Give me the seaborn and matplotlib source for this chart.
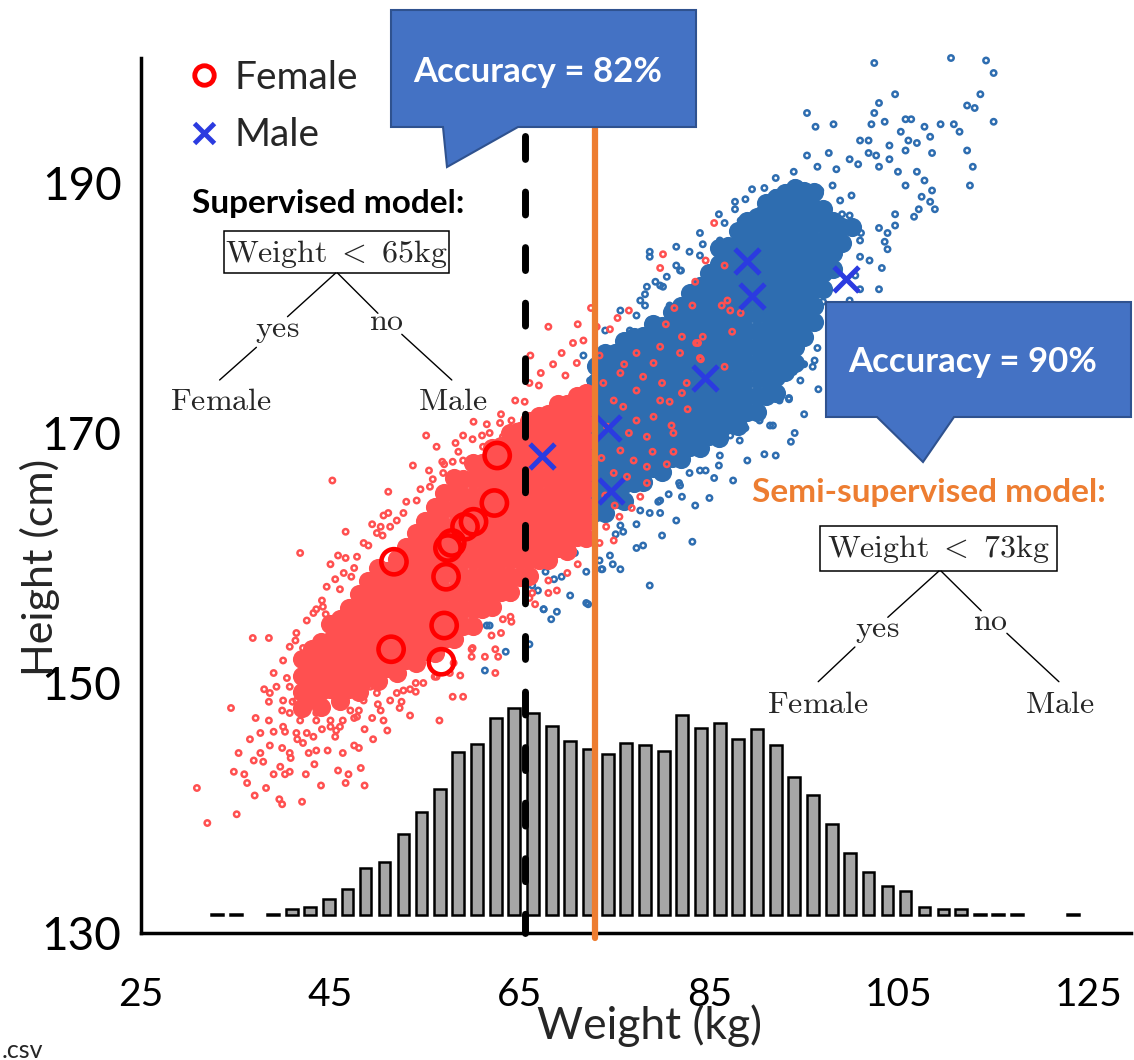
import matplotlib
matplotlib.use("Agg")
import matplotlib.pyplot as plt
import seaborn as sns
import pandas as pd
from matplotlib.lines import Line2D
from matplotlib.patches import Polygon, Rectangle

# ------------------------------------------------------------------ data
# sparse (individually visible) points, weight kg / height cm
female_w = [30.9, 32.0, 35.1, 34.5, 34.8, 35.9, 35.3, 36.8, 38.5, 37.1, 38.5, 38.5, 39.0, 37.6, 37.9, 38.2,
            39.6, 39.9, 39.0, 40.2, 40.7, 39.9, 40.2, 39.0, 39.9, 40.4, 41.3, 41.8, 45.2, 46.6, 42.4, 43.3,
            42.7, 43.5, 44.7, 45.5, 46.3, 46.6, 46.9, 48.6, 48.0, 48.6, 47.5, 46.3, 45.0, 44.1, 43.5, 43.0,
            42.1, 43.3, 43.5, 44.1, 45.0, 45.8, 46.6, 47.2, 45.5, 49.4, 50.3, 51.1, 50.6, 51.1, 53.7, 55.1,
            55.4, 56.2, 56.8, 57.9, 58.2, 59.0, 60.1, 61.0, 61.8, 62.9, 64.1, 53.4, 52.3, 50.6, 49.4, 50.3,
            52.5, 57.9, 59.0, 56.5, 53.4, 54.0, 54.2, 55.4, 58.7, 59.9, 59.9, 61.3, 62.4, 62.7, 62.4, 63.0,
            64.1, 63.2, 64.1, 66.3, 66.6, 68.0, 68.9, 71.1,
            41.0, 41.8, 42.5, 44.5, 45.5, 43.8, 41.5, 40.8, 37.0, 36.5, 38.0, 42.0, 44.0, 45.8, 47.5, 49.5,
            51.0, 48.2,
            44.5, 46.0, 47.5, 49.0, 50.5, 52.0, 53.0, 54.5, 55.8, 57.0, 58.5, 60.0, 61.5, 63.0, 65.5, 67.0,
            46.0, 48.0, 50.0, 52.0, 54.0, 56.0, 58.0, 60.0, 62.0, 64.0, 66.0, 68.0, 70.0,
            64.5, 66.0, 67.2, 68.5, 69.8, 71.0, 68.0, 66.1, 71.1, 69.4, 70.6, 71.7, 73.1, 72.5, 75.3, 76.5,
            74.5,
            73.4, 75.6, 77.3, 79.1, 79.8, 81.9, 83.6, 86.6, 84.0, 82.6, 80.8, 79.1, 77.3, 75.9, 81.2, 78.4,
            75.6, 77.0, 78.4, 76.3, 81.2, 74.9, 77.7, 75.5, 74.1, 74.9, 73.4, 78.4, 79.8, 77.3, 74.9, 83.2,
            86.3, 86.9, 87.2, 88.3, 87.4, 84.1, 82.1, 82.7, 81.0, 84.3, 83.8, 80.4, 81.3, 82.1, 86.6, 84.6,
            79.8, 80.1, 85.5, 83.5, 73.8, 74.2, 73.6, 74.0, 76.5, 76.0, 78.0, 80.0, 79.0, 80.5, 76.8, 75.0,
            42.1, 42.5, 43.2, 44.2, 45.0, 45.6, 46.4, 47.1, 47.8, 42.8, 43.5, 44.2, 45.0, 45.6, 41.4, 40.7,
            40.0, 41.4, 42.1, 43.2, 40.7, 39.7, 38.6, 37.6, 36.9, 36.2, 43.5, 46.4, 47.8, 49.2, 49.9, 51.3,
            52.7, 54.8, 56.2, 57.6, 49.2, 48.5, 40.7, 40.0, 39.3, 38.6, 40.0, 40.7, 41.4, 42.5, 43.2, 44.2,
            44.6, 46.4, 47.8, 48.5, 49.9, 51.3, 52.7, 54.1, 55.5, 56.9, 59.0, 61.1, 63.2, 64.6, 66.1]
female_h = [141.6, 138.8, 139.5, 148.0, 142.9, 142.7, 144.4, 153.6, 153.6, 147.2, 147.0, 148.5, 150.8, 144.4,
            143.7, 141.6, 140.7, 140.3, 142.7, 142.7, 142.9, 144.8, 146.1, 146.1, 147.8, 150.4, 153.4, 160.4,
            166.2, 162.1, 142.7, 143.5, 144.4, 144.6, 144.6, 145.7, 144.4, 142.0, 142.7, 141.8, 144.8, 146.3,
            147.2, 147.0, 146.5, 146.3, 147.6, 149.9, 151.2, 153.1, 155.9, 156.6, 159.5, 160.2, 160.0, 158.5,
            158.3, 162.7, 162.5, 165.3, 163.4, 163.6, 167.4, 169.8, 167.0, 168.9, 167.7, 167.7, 169.2, 169.8,
            170.9, 169.8, 170.0, 170.8, 171.0, 147.4, 148.0, 147.0, 147.2, 147.8, 148.5, 148.9, 148.9, 147.0,
            149.5, 149.3, 152.1, 152.3, 150.6, 152.1, 152.7, 152.1, 150.8, 152.1, 152.7, 154.0, 154.9, 155.1,
            156.8, 157.2, 156.3, 157.2, 157.4, 159.5,
            148.5, 147.0, 146.0, 148.0, 150.5, 151.5, 145.5, 144.0, 141.0, 145.5, 149.5, 140.5, 141.8, 143.0,
            145.0, 145.5, 146.2, 143.2,
            155.5, 157.5, 159.2, 161.0, 161.8, 163.0, 164.5, 165.5, 166.3, 167.5, 168.5, 169.5, 170.7, 171.5,
            172.5, 173.8,
            146.5, 147.8, 148.3, 149.2, 150.0, 150.5, 151.6, 152.8, 153.8, 155.3, 156.8, 158.2, 158.8,
            172.6, 174.0, 174.8, 175.5, 174.6, 175.6, 178.5, 176.2, 178.7, 176.4, 177.2, 177.4, 178.5, 180.0,
            179.2, 179.8, 178.3,
            176.2, 174.8, 176.4, 175.6, 176.9, 176.4, 177.2, 175.3, 176.0, 174.0, 172.5, 171.3, 171.0, 172.1,
            170.0, 169.7, 168.6, 167.8, 167.3, 166.5, 168.5, 166.8, 164.9, 163.3, 162.5, 161.4, 161.2, 166.0,
            172.6, 173.4, 172.6, 180.2, 180.2, 180.6, 179.8, 179.6, 178.1, 175.9, 173.2, 171.9, 170.6, 177.7,
            177.2, 178.7, 180.0, 177.7, 183.4, 183.8, 183.2, 184.3, 186.8, 182.1, 174.0, 170.5, 168.0, 165.0,
            170.0, 175.5, 174.5, 174.0, 168.5, 167.5, 164.0, 164.2,
            152.8, 152.1, 151.3, 150.8, 150.0, 149.4, 148.6, 147.8, 147.3, 149.2, 148.6, 147.8, 147.0, 146.2,
            148.6, 147.6, 146.5, 146.0, 145.2, 145.7, 144.4, 143.3, 145.0, 146.0, 143.8, 142.0, 147.0, 150.5,
            151.3, 152.4, 149.2, 148.6, 149.4, 150.0, 150.5, 150.8, 149.7, 148.6, 149.7, 148.6, 149.7, 149.2,
            151.8, 152.9, 154.0, 155.0, 155.6, 156.1, 157.7, 158.8, 160.1, 161.2, 162.0, 162.5, 163.6, 164.6,
            165.7, 166.8, 167.8, 168.9, 169.7, 170.5, 171.3]

male_w = [102.4, 110.5, 114.2, 115.0, 113.6, 112.2, 113.0, 115.0, 104.6, 102.9, 102.4, 95.3, 96.2, 98.1, 102.1,
          103.5, 105.7, 106.3, 107.7, 109.4, 110.8, 111.4, 108.3, 106.9, 106.0, 105.2, 100.9, 101.8, 104.0,
          105.7, 108.5, 112.2, 112.8, 112.5, 101.8, 102.6, 104.0, 97.6, 95.3, 99.8, 96.4, 98.4, 100.7, 102.9,
          104.9, 106.9, 107.7, 105.7, 108.5, 107.4, 108.3, 108.8, 107.1, 106.6, 104.6, 103.8, 104.6, 102.9,
          103.5, 103.8, 103.2, 102.9, 100.9, 100.9, 90.8, 93.9, 91.9, 88.8, 87.7, 87.7, 88.3, 86.6, 81.5,
          82.9, 84.3, 78.7, 78.7, 81.5, 79.3, 78.4, 78.2, 80.1, 78.2, 77.3, 71.7, 93.6, 90.8, 91.7, 93.4,
          95.9, 95.0, 93.9, 93.6, 96.4, 100.4,
          78.7, 83.2, 77.3, 75.6, 74.8, 73.7, 74.5, 70.3, 68.6, 67.5, 68.3, 68.9, 66.9, 66.3, 72.0, 61.5,
          93.4, 91.4, 88.8, 87.2, 85.5, 86.0, 84.6, 82.9, 82.1, 80.7, 79.8, 78.7, 79.6, 77.3, 75.9, 75.1,
          81.8, 94.8,
          61.3, 63.5, 66.0, 61.8, 67.5, 72.2, 67.7, 69.4, 72.0, 73.6, 73.4, 70.8, 70.3,
          97.0, 98.5, 99.5, 97.8, 96.8, 99.0, 101.0, 100.0, 98.0, 96.0, 94.0, 92.0, 89.5, 86.0, 84.0, 82.0,
          80.5, 96.5, 95.0, 94.0, 92.0, 89.0, 87.5, 85.0, 83.5, 81.5, 80.0, 78.0,
          74.0, 75.6, 77.7, 79.8, 81.9, 84.0, 86.1, 76.6, 78.7, 80.8, 82.9, 85.1, 73.4, 72.4, 88.2, 90.3,
          92.4, 94.6, 96.7, 98.8, 99.8, 100.9, 101.9, 99.8, 98.8, 97.7, 96.1, 94.6, 92.4, 90.3, 88.2, 86.1,
          84.0, 81.9, 79.8, 77.7, 75.6]
male_h = [199.6, 200.0, 199.8, 198.8, 197.1, 196.2, 196.0, 194.9, 197.1, 196.4, 195.6, 195.6, 194.5, 194.7,
          194.7, 194.9, 195.1, 195.1, 194.5, 194.7, 194.7, 194.1, 193.7, 193.2, 193.4, 194.1, 193.4, 193.4,
          193.0, 192.6, 192.4, 192.6, 191.3, 189.8, 192.4, 192.2, 191.9, 192.4, 192.2, 191.9, 191.3, 191.1,
          191.5, 191.3, 190.9, 190.9, 190.2, 189.8, 189.4, 188.9, 188.5, 187.9, 187.9, 187.3, 186.6, 186.0,
          187.5, 186.4, 185.3, 184.7, 183.2, 181.5, 181.5, 184.1, 189.6, 190.9, 189.2, 188.7, 188.5, 187.9,
          187.0, 186.8, 184.9, 184.5, 185.1, 184.5, 184.1, 183.4, 182.1, 181.7, 181.1, 181.7, 180.2, 179.4,
          176.2, 169.3, 168.3, 170.6, 172.7, 175.3, 175.5, 174.9, 177.0, 176.8, 182.6,
          157.8, 161.3, 160.8, 159.1, 159.5, 159.1, 160.2, 157.0, 158.3, 155.9, 155.1, 155.7, 157.4, 157.8,
          156.4, 154.6, 172.8, 170.6, 170.4, 169.8, 166.4, 167.4, 167.0, 166.8, 164.9, 165.1, 163.6, 163.6,
          164.5, 162.7, 162.1, 161.9, 166.0, 175.5,
          151.0, 152.5, 153.1, 154.6, 155.9, 156.3, 158.9, 158.5, 158.9, 159.1, 159.8, 160.4, 161.1,
          180.5, 178.8, 180.0, 184.0, 186.5, 187.5, 186.0, 189.0, 189.8, 189.0, 190.0, 190.4, 189.5, 187.5,
          186.0, 183.0, 182.5, 173.5, 171.5, 170.0, 168.2, 167.8, 166.2, 164.8, 164.2, 163.0, 161.8, 161.0,
          178.2, 179.8, 180.6, 181.8, 183.0, 184.2, 185.4, 178.2, 179.0, 180.2, 181.4, 182.6, 175.8, 174.2,
          186.6, 187.8, 189.0, 189.8, 189.4, 188.6, 187.4, 185.4, 183.8, 180.6, 179.0, 177.4, 175.8, 174.2,
          172.6, 171.0, 169.4, 168.2, 167.0, 165.8, 164.6, 163.8, 162.6]

# densely packed cores: weight column (kg) -> heights read along that column (cm)
female_core_cols = list(range(42, 73))
female_core_heights = [
    [148.0, 149.3, 150.6, 151.9],
    [148.8, 150.1, 151.4, 152.7],
    [148.1, 149.4, 150.7, 152.0, 153.3],
    [149.5, 150.8, 152.1, 153.4, 154.7],
    [148.6, 149.9, 151.2, 152.5, 153.8, 155.1],
    [149.5, 150.8, 152.1, 153.4, 154.7, 156.0],
    [149.3, 150.6, 151.9, 153.2, 154.5, 155.8, 157.1],
    [150.4, 151.7, 153.0, 154.3, 155.6, 156.9, 158.2],
    [150.2, 151.5, 152.8, 154.1, 155.4, 156.7, 158.0, 159.2],
    [151.2, 152.5, 153.8, 155.1, 156.4, 157.7, 159.0],
    [150.8, 152.1, 153.4, 154.7, 156.0, 157.3, 158.6, 159.9],
    [151.8, 153.1, 154.4, 155.7, 157.0, 158.3, 159.6, 160.9],
    [151.6, 152.9, 154.2, 155.5, 156.8, 158.1, 159.4, 160.7, 162.0],
    [152.6, 153.9, 155.2, 156.5, 157.8, 159.1, 160.4, 161.7, 163.0],
    [152.4, 153.7, 155.0, 156.3, 157.6, 158.9, 160.2, 161.5, 162.8, 164.1],
    [153.5, 154.8, 156.1, 157.4, 158.7, 160.0, 161.3, 162.6, 163.9, 165.2],
    [153.5, 154.8, 156.1, 157.4, 158.7, 160.0, 161.3, 162.6, 163.9, 165.2, 166.4],
    [154.6, 155.9, 157.2, 158.5, 159.8, 161.1, 162.4, 163.7, 165.0, 166.3],
    [154.6, 155.9, 157.2, 158.5, 159.8, 161.1, 162.4, 163.7, 165.0, 166.3, 167.6],
    [155.9, 157.2, 158.5, 159.8, 161.1, 162.4, 163.7, 165.0, 166.3, 167.6],
    [156.1, 157.4, 158.7, 160.0, 161.3, 162.6, 163.9, 165.2, 166.5, 167.8, 168.8],
    [157.3, 158.6, 159.9, 161.2, 162.5, 163.8, 165.1, 166.4, 167.7, 169.0],
    [157.3, 158.6, 159.9, 161.2, 162.5, 163.8, 165.1, 166.4, 167.7, 169.0, 170.0],
    [158.5, 159.8, 161.1, 162.4, 163.7, 165.0, 166.3, 167.6, 168.9, 170.2],
    [158.6, 159.9, 161.2, 162.5, 163.8, 165.1, 166.4, 167.7, 169.0, 170.3, 171.0],
    [159.8, 161.1, 162.4, 163.7, 165.0, 166.3, 167.6, 168.9, 170.2, 171.4],
    [159.8, 161.1, 162.4, 163.7, 165.0, 166.3, 167.6, 168.9, 170.2, 171.5],
    [160.8, 162.1, 163.4, 164.7, 166.0, 167.3, 168.6, 169.9, 171.2, 172.3],
    [160.6, 161.9, 163.2, 164.5, 165.8, 167.1, 168.4, 169.7, 171.0, 172.3],
    [161.7, 163.0, 164.3, 165.6, 166.9, 168.2, 169.5, 170.8, 172.1, 173.0],
    [161.6, 162.9, 164.2, 165.5, 166.8, 168.1, 169.4, 170.7, 172.0, 173.2],
]
male_core_cols = list(range(73, 101))
male_core_heights = [
    [163.7, 165.0, 166.3, 167.6, 168.9, 170.2, 171.5, 172.8, 174.1, 175.4],
    [163.6, 164.9, 166.2, 167.5, 168.8, 170.1, 171.4, 172.7, 174.0, 175.3, 176.4],
    [164.7, 166.0, 167.3, 168.6, 169.9, 171.2, 172.5, 173.8, 175.1, 176.4],
    [164.6, 165.9, 167.2, 168.5, 169.8, 171.1, 172.4, 173.7, 175.0, 176.3, 177.4],
    [166.0, 167.3, 168.6, 169.9, 171.2, 172.5, 173.8, 175.1, 176.4, 177.7],
    [166.1, 167.4, 168.7, 170.0, 171.3, 172.6, 173.9, 175.2, 176.5, 177.8],
    [167.2, 168.5, 169.8, 171.1, 172.4, 173.7, 175.0, 176.3, 177.6, 178.7],
    [166.9, 168.2, 169.5, 170.8, 172.1, 173.4, 174.7, 176.0, 177.3, 178.6],
    [168.0, 169.3, 170.6, 171.9, 173.2, 174.5, 175.8, 177.1, 178.4, 179.7],
    [167.9, 169.2, 170.5, 171.8, 173.1, 174.4, 175.7, 177.0, 178.3, 179.6, 180.2],
    [168.9, 170.2, 171.5, 172.8, 174.1, 175.4, 176.7, 178.0, 179.3, 180.6, 181.2],
    [168.8, 170.1, 171.4, 172.7, 174.0, 175.3, 176.6, 177.9, 179.2, 180.5, 181.8],
    [169.8, 171.1, 172.4, 173.7, 175.0, 176.3, 177.6, 178.9, 180.2, 181.5, 182.8],
    [169.6, 170.9, 172.2, 173.5, 174.8, 176.1, 177.4, 178.7, 180.0, 181.3, 182.6, 183.5, 184.8],
    [170.7, 172.0, 173.3, 174.6, 175.9, 177.2, 178.5, 179.8, 181.1, 182.4, 183.7, 185.0],
    [170.6, 171.9, 173.2, 174.5, 175.8, 177.1, 178.4, 179.7, 181.0, 182.3, 183.6, 184.9, 186.2],
    [171.7, 173.0, 174.3, 175.6, 176.9, 178.2, 179.5, 180.8, 182.1, 183.4, 184.7, 185.8, 187.0],
    [171.7, 173.0, 174.3, 175.6, 176.9, 178.2, 179.5, 180.8, 182.1, 183.4, 184.7, 186.0, 187.3],
    [173.0, 174.3, 175.6, 176.9, 178.2, 179.5, 180.8, 182.1, 183.4, 184.7, 186.0, 187.2, 188.4],
    [173.2, 174.5, 175.8, 177.1, 178.4, 179.7, 181.0, 182.3, 183.6, 184.9, 186.2, 187.5, 188.8],
    [174.9, 176.2, 177.5, 178.8, 180.1, 181.4, 182.7, 184.0, 185.3, 186.6, 187.9, 189.2],
    [175.6, 176.9, 178.2, 179.5, 180.8, 182.1, 183.4, 184.7, 186.0, 187.3, 188.4, 189.6],
    [177.7, 179.0, 180.3, 181.6, 182.9, 184.2, 185.5, 186.8, 188.1, 189.4],
    [178.9, 180.2, 181.5, 182.8, 184.1, 185.4, 186.7, 188.0, 189.3],
    [181.5, 182.8, 184.1, 185.4, 186.7, 187.9],
    [183.1, 184.4, 185.7, 187.0],
    [185.2, 186.5],
    [186.5],
]

# labelled examples
labeled_female_w = [62.6, 62.3, 60.1, 59.2, 57.8, 57.4, 51.7, 57.2, 57.0, 51.4, 56.7]
labeled_female_h = [168.2, 164.4, 162.9, 162.5, 161.2, 160.8, 159.7, 158.5, 154.6, 152.7, 151.7]
labeled_male_w = [67.3, 74.3, 74.6, 84.5, 89.0, 89.5, 99.4]
labeled_male_h = [168.2, 170.4, 165.4, 174.4, 183.8, 181.0, 182.3]

# weight histogram (bar heights expressed in height-axis units)
hist_centers = [33.0, 35.0, 38.9, 40.9, 42.8, 44.8, 46.8, 48.7, 50.7, 52.7, 54.6, 56.6, 58.5, 60.5, 62.5,
                64.4, 66.4, 68.4, 70.3, 72.3, 74.3, 76.2, 78.2, 80.2, 82.1, 84.1, 86.1, 88.0, 90.0, 92.0,
                93.9, 95.9, 97.9, 99.8, 101.8, 103.8, 105.7, 107.7, 109.7, 111.6, 113.6, 115.5, 117.5, 123.4]
hist_heights = [0.1, 0.1, 0.1, 0.45, 0.63, 1.29, 2.1, 3.79, 4.21, 6.5, 8.21, 10.1, 13.05, 13.68, 15.76,
                16.58, 16.18, 15.13, 13.95, 13.3, 12.9, 13.75, 13.55, 13.15, 15.97, 14.93, 15.36, 14.08,
                14.91, 13.63, 11.07, 9.6, 7.25, 4.93, 3.44, 2.35, 1.95, 0.64, 0.45, 0.45, 0.1, 0.1, 0.1, 0.1]
hist_baseline = 131.45

supervised_cut = 65.5
semi_cut = 72.9
x_ticks = [25, 45, 65, 85, 105, 125]
y_ticks = [130, 150, 170, 190]

# ------------------------------------------------------------------ style
RED_PT = '#ff5050'
BLUE_PT = '#2e6db0'
RED_BIG = '#ff0000'
BLUE_X = '#2b3be0'
ORANGE = '#ed7d31'
CALLOUT = '#4472c4'
CALLOUT_EDGE = '#2f528f'
GRAY = '#a6a6a6'

sns.set_theme(style="white")
plt.rcParams['font.family'] = ['Lato', 'DejaVu Sans']
plt.rcParams['mathtext.fontset'] = 'cm'

W, H = 1134, 1060
fig = plt.figure(figsize=(W / 100, H / 100), dpi=100)
ax = fig.add_axes([141 / W, 127 / H, 990 / W, 875 / H])


def fx(x):
    return x / W


def fy(y):
    return 1 - y / H


def flatten(cols, heights):
    return pd.DataFrame([(c, h) for c, hs in zip(cols, heights) for h in hs], columns=['w', 'h'])


male_core = flatten(male_core_cols, male_core_heights)
female_core = flatten(female_core_cols, female_core_heights)

# male cloud
sns.scatterplot(data=male_core, x='w', y='h', s=190, color=BLUE_PT, linewidth=0, ax=ax,
                zorder=1, legend=False, clip_on=False)
sns.scatterplot(x=male_w, y=male_h, s=15, facecolor='none', edgecolor=BLUE_PT, linewidth=1.8,
                ax=ax, zorder=1.5, legend=False, clip_on=False)
# female cloud
sns.scatterplot(data=female_core, x='w', y='h', s=190, color=RED_PT, linewidth=0, ax=ax,
                zorder=2, legend=False, clip_on=False)
sns.scatterplot(x=female_w, y=female_h, s=15, facecolor='none', edgecolor=RED_PT, linewidth=1.8,
                ax=ax, zorder=2.5, legend=False, clip_on=False)

# histogram
ax.bar(hist_centers, hist_heights, width=1.25, bottom=hist_baseline, color=GRAY,
       edgecolor='black', linewidth=1.8, zorder=3)

# labelled points
sns.scatterplot(x=labeled_female_w, y=labeled_female_h, s=330, facecolor='none', edgecolor=RED_BIG,
                linewidth=3.3, ax=ax, zorder=4, legend=False)
sns.scatterplot(x=labeled_male_w, y=labeled_male_h, s=320, marker='x', color=BLUE_X,
                linewidth=3.6, ax=ax, zorder=4, legend=False)

# decision thresholds
ax.plot([supervised_cut, supervised_cut], [193.8, 130], color='black', lw=5,
        ls=(0, (3.3, 4.7)), dash_capstyle='round', zorder=5, clip_on=False)
ax.plot([semi_cut, semi_cut], [197, 129.6], color=ORANGE, lw=4.5, zorder=5, clip_on=False)

# axes
ax.set_xlim(25, 129.5)
ax.set_ylim(130, 200)
ax.set_xticks(x_ticks)
ax.set_yticks(y_ticks)
for s in ['top', 'right']:
    ax.spines[s].set_visible(False)
for s in ['left', 'bottom']:
    ax.spines[s].set_linewidth(2.5)
    ax.spines[s].set_color('black')
ax.tick_params(axis='both', direction='out', length=10, width=2.5, colors='black')
ax.tick_params(axis='x', pad=22, labelsize=28)
ax.tick_params(axis='y', pad=4, labelsize=33)
ax.set_xlabel('Weight (kg)', fontsize=32)
ax.set_ylabel('Height (cm)', fontsize=31)
ax.xaxis.set_label_coords(0.514, -0.082)
ax.yaxis.set_label_coords(-0.082, 0.418)

# legend
handles = [Line2D([0], [0], marker='o', ls='none', mfc='none', mec=RED_BIG, mew=3.5, ms=14),
           Line2D([0], [0], marker='x', ls='none', color=BLUE_X, mew=3.5, ms=15)]
ax.legend(handles, ['Female', 'Male'], loc='upper left', bbox_to_anchor=(0.045, 0.998),
          frameon=False, fontsize=28, handlelength=0.95, handletextpad=0.3, labelspacing=0.55,
          borderpad=0, borderaxespad=0)

# callouts
call1 = [(391, 10), (696, 10), (696, 127), (518, 127), (447, 167), (443, 127), (391, 127)]
call2 = [(826, 302), (1131, 302), (1131, 417), (954, 417), (923, 462), (877, 417), (826, 417)]
for pts in (call1, call2):
    fig.add_artist(Polygon([(fx(x), fy(y)) for x, y in pts], closed=True, transform=fig.transFigure,
                           facecolor=CALLOUT, edgecolor=CALLOUT_EDGE, lw=1.5, zorder=10))
fig.text(fx(538), fy(82), 'Accuracy = 82%', color='white', fontsize=25, fontweight='bold',
         ha='center', va='baseline', zorder=11)
fig.text(fx(973), fy(372), 'Accuracy = 90%', color='white', fontsize=25, fontweight='bold',
         ha='center', va='baseline', zorder=11)

# model titles
fig.text(fx(328), fy(213), 'Supervised model:', color='black', fontsize=24, fontweight='bold',
         ha='center', va='baseline', zorder=11)
fig.text(fx(929), fy(502), 'Semi-supervised model:', color=ORANGE, fontsize=24, fontweight='bold',
         ha='center', va='baseline', zorder=11)


# decision trees
def tree(box, label, base_y, segs, yes_pos, no_pos, leaf_y, fem_x, male_x):
    (x0, y0), (x1, y1) = box
    fig.add_artist(Rectangle((fx(x0), fy(y1)), fx(x1) - fx(x0), fy(y0) - fy(y1),
                             transform=fig.transFigure, facecolor='white', edgecolor='black',
                             lw=1.1, zorder=11))
    fig.text(fx((x0 + x1) / 2), fy(base_y), label, fontsize=23, ha='center', va='baseline', zorder=12)
    for (a, b) in segs:
        fig.add_artist(Line2D([fx(a[0]), fx(b[0])], [fy(a[1]), fy(b[1])], transform=fig.transFigure,
                              color='black', lw=1.0, zorder=11))
    fig.text(fx(yes_pos[0]), fy(yes_pos[1]), r'$\mathrm{yes}$', fontsize=23, ha='center',
             va='baseline', zorder=12)
    fig.text(fx(no_pos[0]), fy(no_pos[1]), r'$\mathrm{no}$', fontsize=23, ha='center',
             va='baseline', zorder=12)
    fig.text(fx(fem_x), fy(leaf_y), r'$\mathrm{Female}$', fontsize=23, ha='center', va='baseline', zorder=12)
    fig.text(fx(male_x), fy(leaf_y), r'$\mathrm{Male}$', fontsize=23, ha='center', va='baseline', zorder=12)


tree(((224, 231), (449, 273)), r'$\mathrm{Weight}\ <\ 65\mathrm{kg}$', 262,
     [((335.7, 273), (287.5, 316.7)), ((256.4, 347.3), (219.6, 380)),
      ((337.5, 273), (377.9, 313.3)), ((401.8, 334.3), (451.8, 380))],
     (277, 337), (386, 330), 410, 221, 453)
tree(((820, 526), (1057, 571)), r'$\mathrm{Weight}\ <\ 73\mathrm{kg}$', 557,
     [((939, 571), (887.8, 617.3)), ((854.9, 647), (818.2, 681.7)),
      ((941, 571), (981.2, 610.7)), ((1006.9, 633.3), (1058.9, 681.7))],
     (877, 637), (990, 630), 713, 818, 1060)

fig.text(fx(2), fy(1058), '.csv', fontsize=18, ha='left', va='baseline')

fig.savefig('out.png', dpi=100)
